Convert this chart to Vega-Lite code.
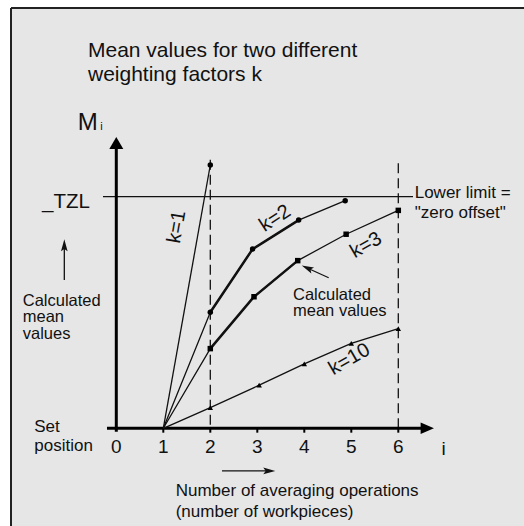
{
  "$schema": "https://vega.github.io/schema/vega-lite/v6.json",
  "width": 513,
  "height": 518,
  "autosize": {"type": "none"},
  "padding": {"left": 11, "top": 8, "right": 0, "bottom": 0},
  "background": "white",
  "config": {
    "view": {"stroke": null, "fill": "#e6e6e6"},
    "font": "Liberation Sans",
    "text": {"font": "Liberation Sans", "color": "#111"}
  },
  "datasets": {
    "curves": [
      {"k": "k=1", "i": 1, "M": 0},
      {"k": "k=1", "i": 2, "M": 113.7},
      {"k": "k=2", "i": 1, "M": 0},
      {"k": "k=2", "i": 2, "M": 50.1},
      {"k": "k=2", "i": 2.9, "M": 77.4},
      {"k": "k=2", "i": 3.88, "M": 89.9},
      {"k": "k=2", "i": 4.87, "M": 98.3},
      {"k": "k=3", "i": 1, "M": 0},
      {"k": "k=3", "i": 2, "M": 34.4},
      {"k": "k=3", "i": 2.93, "M": 56.8},
      {"k": "k=3", "i": 3.86, "M": 72.4},
      {"k": "k=3", "i": 4.89, "M": 83.8},
      {"k": "k=3", "i": 6, "M": 94.1},
      {"k": "k=10", "i": 1, "M": 0},
      {"k": "k=10", "i": 2, "M": 8.9},
      {"k": "k=10", "i": 3.04, "M": 18.6},
      {"k": "k=10", "i": 4, "M": 27.8},
      {"k": "k=10", "i": 5, "M": 36.7},
      {"k": "k=10", "i": 6, "M": 43.0}
    ],
    "ticks": [
      {"i": 0, "label": "0"},
      {"i": 1, "label": "1"},
      {"i": 2, "label": "2"},
      {"i": 3, "label": "3"},
      {"i": 4, "label": "4"},
      {"i": 5, "label": "5"},
      {"i": 6, "label": "6"}
    ],
    "frame": [
      {"i": -2.2404, "i2": -2.2404, "M": -42.2, "M2": 181.5},
      {"i": -2.2404, "i2": 8.6745, "M": 181.5, "M2": 181.5}
    ]
  },
  "encoding": {
    "x": {"type": "quantitative", "scale": {"domain": [-2.2404, 8.6745], "nice": false, "zero": false}, "axis": null},
    "y": {"type": "quantitative", "scale": {"domain": [-42.2, 181.5], "nice": false, "zero": false}, "axis": null}
  },
  "layer": [
    {
      "description": "frame, left and top edges",
      "data": {"name": "frame"},
      "mark": {"type": "rule", "color": "#222", "strokeWidth": 2, "clip": false},
      "encoding": {
        "x": {"field": "i", "type": "quantitative"},
        "x2": {"field": "i2"},
        "y": {"field": "M", "type": "quantitative"},
        "y2": {"field": "M2"}
      }
    },
    {
      "description": "_TZL lower limit",
      "data": {"values": [{"M": 100, "from": -0.283, "to": 6.313}]},
      "mark": {"type": "rule", "color": "#111", "strokeWidth": 1.2},
      "encoding": {
        "x": {"field": "from", "type": "quantitative"},
        "x2": {"field": "to"},
        "y": {"field": "M", "type": "quantitative"}
      }
    },
    {
      "description": "dashed markers at i = 2 and i = 6",
      "data": {"values": [{"i": 2, "top": 116}, {"i": 6, "top": 114.5}]},
      "mark": {"type": "rule", "color": "#111", "strokeWidth": 1.3, "strokeDash": [10, 5]},
      "encoding": {
        "x": {"field": "i", "type": "quantitative"},
        "y": {"field": "top", "type": "quantitative"},
        "y2": {"datum": 0}
      }
    },
    {
      "description": "M axis",
      "data": {"values": [{"i": 0, "from": -1.47, "to": 120.6}]},
      "mark": {"type": "rule", "color": "#000", "strokeWidth": 3},
      "encoding": {
        "x": {"field": "i", "type": "quantitative"},
        "y": {"field": "from", "type": "quantitative"},
        "y2": {"field": "to"}
      }
    },
    {
      "description": "i axis",
      "data": {"values": [{"M": 0, "from": -0.198, "to": 6.483}]},
      "mark": {"type": "rule", "color": "#000", "strokeWidth": 3},
      "encoding": {
        "x": {"field": "from", "type": "quantitative"},
        "x2": {"field": "to"},
        "y": {"field": "M", "type": "quantitative"}
      }
    },
    {
      "description": "M axis arrowhead",
      "data": {"values": [{"i": 0, "M": 123.2}]},
      "mark": {"type": "point", "filled": true, "color": "#000", "opacity": 1, "size": 196, "shape": "M0,-0.86L1,0.86L-1,0.86Z"},
      "encoding": {
        "x": {"field": "i", "type": "quantitative"},
        "y": {"field": "M", "type": "quantitative"}
      }
    },
    {
      "description": "i axis arrowhead",
      "data": {"values": [{"i": 6.617, "M": 0}]},
      "mark": {"type": "point", "filled": true, "color": "#000", "opacity": 1, "size": 177, "shape": "M1,0L-1,-0.87L-1,0.87Z"},
      "encoding": {
        "x": {"field": "i", "type": "quantitative"},
        "y": {"field": "M", "type": "quantitative"}
      }
    },
    {
      "description": "tick marks",
      "data": {"name": "ticks"},
      "transform": [{"filter": "datum.i > 0"}],
      "mark": {"type": "rule", "color": "#000", "strokeWidth": 2},
      "encoding": {
        "x": {"field": "i", "type": "quantitative"},
        "y": {"datum": 0},
        "y2": {"datum": -1.9}
      }
    },
    {
      "description": "tick labels",
      "data": {"name": "ticks"},
      "mark": {"type": "text", "fontSize": 19, "align": "center", "baseline": "alphabetic"},
      "encoding": {
        "x": {"field": "i", "type": "quantitative"},
        "y": {"datum": -10.5},
        "text": {"field": "label"}
      }
    },
    {
      "description": "curves, thin",
      "data": {"name": "curves"},
      "mark": {"type": "line", "color": "#111", "strokeWidth": 1.3},
      "encoding": {
        "x": {"field": "i", "type": "quantitative"},
        "y": {"field": "M", "type": "quantitative"},
        "detail": {"field": "k"}
      }
    },
    {
      "description": "curves, heavy section for k=2 and k=3",
      "data": {"name": "curves"},
      "transform": [{"filter": "(datum.k == 'k=2' || datum.k == 'k=3') && datum.i >= 2 && datum.i <= 3.9"}],
      "mark": {"type": "line", "color": "#111", "strokeWidth": 2.5},
      "encoding": {
        "x": {"field": "i", "type": "quantitative"},
        "y": {"field": "M", "type": "quantitative"},
        "detail": {"field": "k"}
      }
    },
    {
      "description": "calculated mean values",
      "data": {"name": "curves"},
      "transform": [{"filter": "datum.i > 1"}],
      "mark": {"type": "point", "filled": true, "color": "#000", "opacity": 1},
      "encoding": {
        "x": {"field": "i", "type": "quantitative"},
        "y": {"field": "M", "type": "quantitative"},
        "shape": {"field": "k", "type": "nominal", "scale": {"domain": ["k=1", "k=2", "k=3", "k=10"], "range": ["circle", "circle", "square", "triangle-up"]}, "legend": null},
        "size": {"field": "k", "type": "ordinal", "scale": {"domain": ["k=1", "k=2", "k=3", "k=10"], "range": [30, 30, 28, 100]}, "legend": null}
      }
    },
    {
      "data": {"values": [{"label": "Mean values for two different\nweighting factors k", "i": -0.602, "M": 160.3}]},
      "mark": {"type": "text", "fontSize": 21, "lineHeight": 24, "lineBreak": "\n", "align": "left", "baseline": "alphabetic"},
      "encoding": {"x": {"field": "i", "type": "quantitative"}, "y": {"field": "M", "type": "quantitative"}, "text": {"field": "label"}}
    },
    {
      "data": {"values": [{"label": "M", "i": -0.821, "M": 128.8}]},
      "mark": {"type": "text", "fontSize": 24, "align": "left", "baseline": "alphabetic"},
      "encoding": {"x": {"field": "i", "type": "quantitative"}, "y": {"field": "M", "type": "quantitative"}, "text": {"field": "label"}}
    },
    {
      "data": {"values": [{"label": "i", "i": -0.315, "M": 128.8}]},
      "mark": {"type": "text", "fontSize": 11, "align": "center", "baseline": "alphabetic"},
      "encoding": {"x": {"field": "i", "type": "quantitative"}, "y": {"field": "M", "type": "quantitative"}, "text": {"field": "label"}}
    },
    {
      "data": {"values": [{"label": "_TZL", "i": -1.581, "M": 95.0}]},
      "mark": {"type": "text", "fontSize": 20.5, "align": "left", "baseline": "alphabetic"},
      "encoding": {"x": {"field": "i", "type": "quantitative"}, "y": {"field": "M", "type": "quantitative"}, "text": {"field": "label"}}
    },
    {
      "data": {"values": [{"label": "Calculated\nmean\nvalues", "i": -1.991, "M": 52.9}]},
      "mark": {"type": "text", "fontSize": 16.5, "lineHeight": 16.5, "lineBreak": "\n", "align": "left", "baseline": "alphabetic"},
      "encoding": {"x": {"field": "i", "type": "quantitative"}, "y": {"field": "M", "type": "quantitative"}, "text": {"field": "label"}}
    },
    {
      "data": {"values": [{"label": "Set\nposition", "i": -1.745, "M": -1.73}]},
      "mark": {"type": "text", "fontSize": 17, "lineHeight": 18.7, "lineBreak": "\n", "align": "left", "baseline": "alphabetic"},
      "encoding": {"x": {"field": "i", "type": "quantitative"}, "y": {"field": "M", "type": "quantitative"}, "text": {"field": "label"}}
    },
    {
      "data": {"values": [{"label": "i", "i": 6.966, "M": -11.5}]},
      "mark": {"type": "text", "fontSize": 19, "align": "center", "baseline": "alphabetic"},
      "encoding": {"x": {"field": "i", "type": "quantitative"}, "y": {"field": "M", "type": "quantitative"}, "text": {"field": "label"}}
    },
    {
      "data": {"values": [{"label": "Number of averaging operations\n(number of workpieces)", "i": 1.264, "M": -29.1}]},
      "mark": {"type": "text", "fontSize": 17, "lineHeight": 21, "lineBreak": "\n", "align": "left", "baseline": "alphabetic"},
      "encoding": {"x": {"field": "i", "type": "quantitative"}, "y": {"field": "M", "type": "quantitative"}, "text": {"field": "label"}}
    },
    {
      "data": {"values": [{"label": "Lower limit =\n\"zero offset\"", "i": 6.349, "M": 99.3}]},
      "mark": {"type": "text", "fontSize": 17, "lineHeight": 19.4, "lineBreak": "\n", "align": "left", "baseline": "alphabetic"},
      "encoding": {"x": {"field": "i", "type": "quantitative"}, "y": {"field": "M", "type": "quantitative"}, "text": {"field": "label"}}
    },
    {
      "data": {"values": [{"label": "Calculated\nmean values", "i": 3.76, "M": 55.4}]},
      "mark": {"type": "text", "fontSize": 16.5, "lineHeight": 16.5, "lineBreak": "\n", "align": "left", "baseline": "alphabetic"},
      "encoding": {"x": {"field": "i", "type": "quantitative"}, "y": {"field": "M", "type": "quantitative"}, "text": {"field": "label"}}
    },
    {
      "data": {"values": [{"label": "k=1", "i": 1.285, "M": 87.0}]},
      "mark": {"type": "text", "fontSize": 20, "angle": -80, "align": "center", "baseline": "middle"},
      "encoding": {"x": {"field": "i", "type": "quantitative"}, "y": {"field": "M", "type": "quantitative"}, "text": {"field": "label"}}
    },
    {
      "data": {"values": [{"label": "k=2", "i": 3.377, "M": 90.7}]},
      "mark": {"type": "text", "fontSize": 20, "angle": -33, "align": "center", "baseline": "middle"},
      "encoding": {"x": {"field": "i", "type": "quantitative"}, "y": {"field": "M", "type": "quantitative"}, "text": {"field": "label"}}
    },
    {
      "data": {"values": [{"label": "k=3", "i": 5.313, "M": 79.1}]},
      "mark": {"type": "text", "fontSize": 20, "angle": -30, "align": "center", "baseline": "middle"},
      "encoding": {"x": {"field": "i", "type": "quantitative"}, "y": {"field": "M", "type": "quantitative"}, "text": {"field": "label"}}
    },
    {
      "data": {"values": [{"label": "k=10", "i": 4.957, "M": 29.8}]},
      "mark": {"type": "text", "fontSize": 20, "angle": -30, "align": "center", "baseline": "middle"},
      "encoding": {"x": {"field": "i", "type": "quantitative"}, "y": {"field": "M", "type": "quantitative"}, "text": {"field": "label"}}
    },
    {
      "description": "upward arrow beside the M axis",
      "data": {"values": [{"i": -1.106, "from": 64.0, "to": 79.0}]},
      "mark": {"type": "rule", "color": "#111", "strokeWidth": 1.3},
      "encoding": {
        "x": {"field": "i", "type": "quantitative"},
        "y": {"field": "from", "type": "quantitative"},
        "y2": {"field": "to"}
      }
    },
    {
      "data": {"values": [{"i": -1.106, "M": 79.0}]},
      "mark": {"type": "point", "filled": true, "color": "#111", "opacity": 1, "size": 144, "shape": "M0,-1L0.55,1L0,0.6L-0.55,1Z"},
      "encoding": {"x": {"field": "i", "type": "quantitative"}, "y": {"field": "M", "type": "quantitative"}}
    },
    {
      "description": "rightward arrow above the i axis caption",
      "data": {"values": [{"M": -18.4, "from": 2.249, "to": 3.255}]},
      "mark": {"type": "rule", "color": "#111", "strokeWidth": 1.3},
      "encoding": {
        "x": {"field": "from", "type": "quantitative"},
        "x2": {"field": "to"},
        "y": {"field": "M", "type": "quantitative"}
      }
    },
    {
      "data": {"values": [{"i": 3.255, "M": -18.4}]},
      "mark": {"type": "point", "filled": true, "color": "#111", "opacity": 1, "size": 144, "shape": "M1,0L-1,-0.55L-0.6,0L-1,0.55Z"},
      "encoding": {"x": {"field": "i", "type": "quantitative"}, "y": {"field": "M", "type": "quantitative"}}
    },
    {
      "description": "pointer to a calculated mean value",
      "data": {"values": [{"i": 4.519, "M": 65.0, "i2": 4.062, "M2": 69.2}]},
      "mark": {"type": "rule", "color": "#111", "strokeWidth": 1.2},
      "encoding": {
        "x": {"field": "i", "type": "quantitative"},
        "y": {"field": "M", "type": "quantitative"},
        "x2": {"field": "i2"},
        "y2": {"field": "M2"}
      }
    },
    {
      "data": {"values": [{"i": 4.062, "M": 69.2}]},
      "mark": {"type": "point", "filled": true, "color": "#111", "opacity": 1, "size": 144, "angle": 204, "shape": "M1,0L-1,-0.55L-0.6,0L-1,0.55Z"},
      "encoding": {"x": {"field": "i", "type": "quantitative"}, "y": {"field": "M", "type": "quantitative"}}
    }
  ]
}
